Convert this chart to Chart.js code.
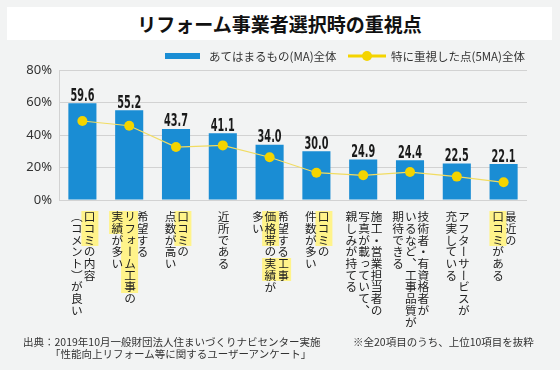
<!DOCTYPE html>
<html lang="ja">
<head>
<meta charset="utf-8">
<script src="https://cdn.jsdelivr.net/npm/chart.js@4.4.1/dist/chart.umd.min.js"></script>
<style>
  body { margin: 0; background: #f2f3f3; }
  #wrap { position: relative; width: 560px; height: 370px; overflow: hidden; font-family: 'Noto Sans CJK JP', sans-serif; color: #222; }
  #title { position: absolute; left: 7px; top: 7px; width: 545px; height: 33px; background: #fff; text-align: center; line-height: 33px; font-size: 19px; font-weight: bold; color: #111; }
  canvas { position: absolute; left: 0; top: 0; }
  .lab { position: absolute; top: 211px; writing-mode: vertical-rl; font-size: 11.7px; line-height: 12.6px; white-space: nowrap; transform: translateX(-50%); color: #222; }
  .hl { background: #fff38a; }
  .note { position: absolute; font-size: 10.5px; line-height: 12px; color: #333; white-space: nowrap; }
</style>
</head>
<body>
<div id="wrap">
  <div id="title">リフォーム事業者選択時の重視点</div>
  <canvas id="chart" width="560" height="370"></canvas>
  <div id="labels"></div>
  <div class="note" style="left:23px; top:336px;">出典：2019年10月一般財団法人住まいづくりナビセンター実施</div>
  <div class="note" style="left:50px; top:348px;">「性能向上リフォーム等に関するユーザーアンケート」</div>
  <div class="note" style="left:353px; top:336px;">※全20項目のうち、上位10項目を抜粋</div>
</div>
<script>
// Categories: one string per vertical column (right to left), [..] = highlighted words
const categories = [
    ['[口コミ]の内容', '（コメント）が良い'],
    ['希望する', '[リフォーム工事]の', '[実績]が多い'],
    ['[口コミ]の', '点数が高い'],
    ['近所である'],
    ['希望する[工事]', '[価格帯]の[実績]が', '多い'],
    ['[口コミ]の', '件数が多い'],
    ['施工・営業担当者の', '写真が載っていて、', '親しみが持てる'],
    ['技術者・有資格者が', 'いるなど、工事品質が', '期待できる'],
    ['アフターサービスが', '充実している'],
    ['最近の', '[口コミ]がある']
];

// Series values (%)
const allValues = [59.6, 55.2, 43.7, 41.1, 34.0, 30.0, 24.9, 24.4, 22.5, 22.1];
const focusValues = [48.6, 45.7, 32.6, 33.6, 26.3, 16.8, 15.2, 17.2, 14.4, 10.9];

// Axis ticks
const yTicks = [0, 20, 40, 60, 80];

// Series names
const allLabel = 'あてはまるもの(MA)全体';
const focusLabel = '特に重視した点(5MA)全体';

const BLUE = '#1a8dd4';
const YELLOW = '#f4d400';

// Value labels above bars, narrow numerals
const valueLabels = {
    id: 'valueLabels',
    afterDatasetsDraw(chart) {
        const meta = chart.getDatasetMeta(1);
        const ctx = chart.ctx;
        ctx.save();
        ctx.fillStyle = '#1a1a1a';
        ctx.font = 'bold 18px "DejaVu Sans Condensed"';
        ctx.textAlign = 'center';
        ctx.textBaseline = 'alphabetic';
        meta.data.forEach((bar, i) => {
            ctx.save();
            ctx.translate(bar.x, bar.y - 2.5);
            ctx.scale(0.6, 1);
            ctx.fillText(allValues[i].toFixed(1), 0, 0);
            ctx.restore();
        });
        ctx.restore();
    }
};

// Legend drawn by hand: box for bars, line with dot for the line series
const customLegend = {
    id: 'customLegend',
    afterDraw(chart) {
        const ctx = chart.ctx;
        ctx.save();
        ctx.fillStyle = BLUE;
        ctx.fillRect(165, 53, 35, 6);
        ctx.strokeStyle = YELLOW;
        ctx.lineWidth = 3;
        ctx.beginPath();
        ctx.moveTo(348, 56);
        ctx.lineTo(386, 56);
        ctx.stroke();
        ctx.fillStyle = YELLOW;
        ctx.beginPath();
        ctx.arc(367, 56, 5, 0, Math.PI * 2);
        ctx.fill();
        ctx.fillStyle = '#333';
        ctx.font = '11.5px "Noto Sans CJK JP"';
        ctx.textBaseline = 'middle';
        ctx.fillText(chart.data.datasets[1].label, 209, 57);
        ctx.fillText(chart.data.datasets[0].label, 391, 57);
        ctx.restore();
    }
};

// Vertical Japanese category labels placed under each bar
const verticalLabels = {
    id: 'verticalLabels',
    afterDraw(chart) {
        const box = document.getElementById('labels');
        if (box.childElementCount) return;
        const x = chart.scales.x;
        categories.forEach((cols, i) => {
            const div = document.createElement('div');
            div.className = 'lab';
            div.style.left = x.getPixelForValue(i) + 'px';
            div.innerHTML = cols.map(c => c.replace(/\[(.+?)\]/g, '<span class="hl">$1</span>')).join('<br>');
            box.appendChild(div);
        });
    }
};

new Chart(document.getElementById('chart'), {
    type: 'bar',
    data: {
        labels: categories.map(c => c.join('').replace(/[\[\]]/g, '')),
        datasets: [
            {
                type: 'line',
                label: focusLabel,
                data: focusValues,
                borderColor: '#f1dc62',
                borderWidth: 1.2,
                pointRadius: 5,
                pointBorderWidth: 0,
                pointBackgroundColor: YELLOW,
                tension: 0,
                order: 0
            },
            {
                type: 'bar',
                label: allLabel,
                data: allValues,
                backgroundColor: BLUE,
                categoryPercentage: 1,
                barPercentage: 0.6,
                order: 1
            }
        ]
    },
    options: {
        responsive: false,
        animation: false,
        layout: { padding: { top: 70, right: 33, left: 0, bottom: 0 } },
        plugins: {
            legend: { display: false },
            tooltip: { enabled: false }
        },
        scales: {
            x: {
                grid: { display: false },
                border: { display: false },
                ticks: { display: false },
                afterFit: s => { s.height = 170; }
            },
            y: {
                min: 0,
                max: 80,
                afterBuildTicks: s => { s.ticks = yTicks.map(v => ({ value: v })); },
                ticks: {
                    callback: v => v + '%',
                    color: '#333',
                    font: { family: 'Noto Sans', size: 13 },
                    padding: 7
                },
                grid: { color: '#d2d2d2', drawTicks: false },
                border: { color: '#d2d2d2' },
                afterFit: s => { s.width = 59; }
            }
        }
    },
    plugins: [valueLabels, customLegend, verticalLabels]
});
</script>
</body>
</html>
